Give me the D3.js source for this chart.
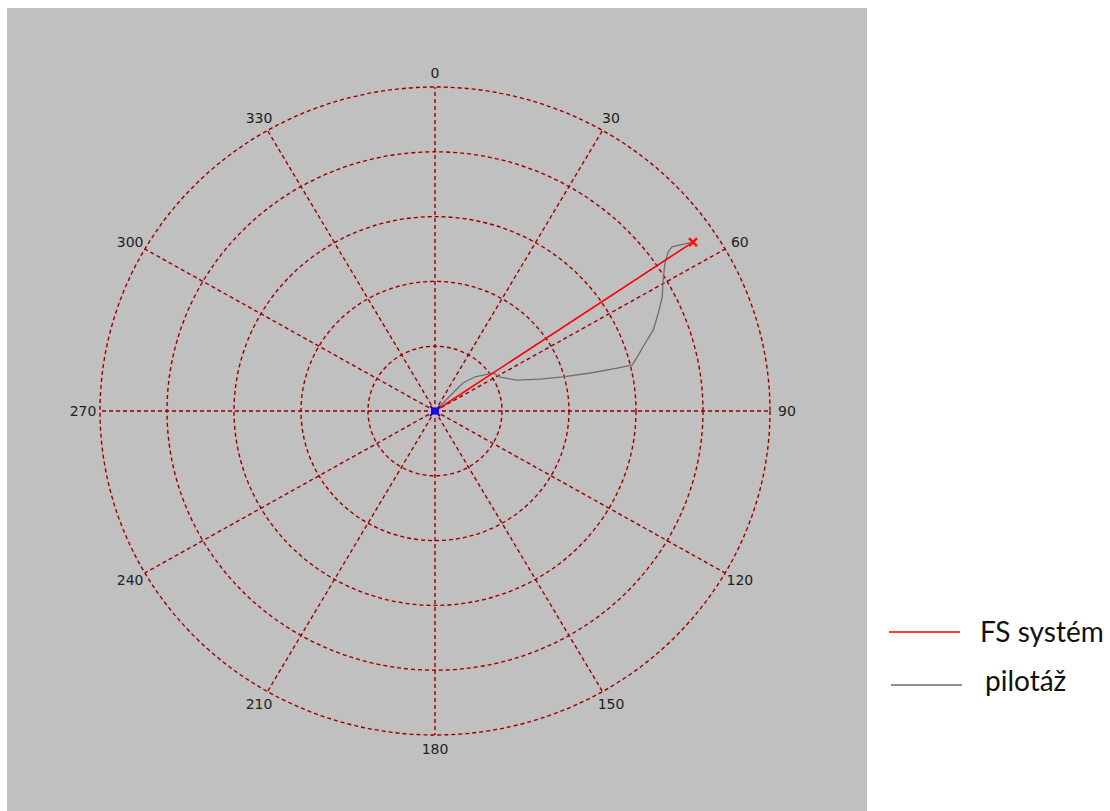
<!DOCTYPE html>
<html>
<head>
<meta charset="utf-8">
<script src="https://cdn.jsdelivr.net/npm/d3@7"></script>
<style>
  html, body { margin: 0; padding: 0; background: #ffffff; }
  svg { display: block; }
</style>
</head>
<body>
<svg id="chart" width="1110" height="811"></svg>
<script>
// Angular ticks (degrees, clockwise from north) and radial ring values
const angleTicks = [0, 30, 60, 90, 120, 150, 180, 210, 240, 270, 300, 330];
const ringTicks = [1, 2, 3, 4, 5];

// FS systém: straight bearing from origin to the final fix
const fsAngles = [55.9, 55.9];
const fsRadii = [0, 4.65];

// pilotáž: recorded track (bearing in degrees, radial distance)
const pilotAngles = [0, 44.0, 44.0, 44.0, 48.7, 55.9, 61.6, 68.7, 72.5, 74.6, 75.8, 76.3, 76.4,
  74.6, 72.3, 69.0, 65.6, 62.6, 59.3, 56.4, 54.8, 54.4, 55.0, 55.7];
const pilotRadii = [0, 0.28, 0.45, 0.60, 0.80, 1.05, 1.10, 1.31, 1.64, 1.98, 2.39, 2.80, 3.03,
  3.13, 3.26, 3.49, 3.66, 3.82, 3.96, 4.12, 4.26, 4.35, 4.47, 4.61];

const legendLabels = ["FS systém", "pilotáž"];
const legendColors = ["#ff0000", "#6e6e6e"];

const svg = d3.select("#chart");

// Plot panel
svg.append("rect")
  .attr("x", 7).attr("y", 8).attr("width", 860).attr("height", 803)
  .attr("fill", "#c0c0c0");

const cx = 435, cy = 411;
const rX = 335, rY = 324;           // outer ring half-axes in px
const r = d3.scaleLinear().domain([0, 5]).range([0, 1]);
const toRad = d => d * Math.PI / 180;
const px = (a, v) => cx + r(v) * rX * Math.sin(toRad(a));
const py = (a, v) => cy - r(v) * rY * Math.cos(toRad(a));

const grid = svg.append("g");
const gridColor = "#7a0808";

// soft halo under the dashed grid
grid.selectAll("ellipse.halo").data(ringTicks).join("ellipse")
  .attr("cx", cx).attr("cy", cy)
  .attr("rx", d => r(d) * rX).attr("ry", d => r(d) * rY)
  .attr("fill", "none").attr("stroke", "#e8a8a8").attr("stroke-opacity", 0.35).attr("stroke-width", 3);
grid.selectAll("line.halo").data(angleTicks).join("line")
  .attr("x1", cx).attr("y1", cy)
  .attr("x2", d => px(d, 5)).attr("y2", d => py(d, 5))
  .attr("stroke", "#e8a8a8").attr("stroke-opacity", 0.35).attr("stroke-width", 3);

grid.selectAll("ellipse.ring").data(ringTicks).join("ellipse")
  .attr("class", "ring")
  .attr("cx", cx).attr("cy", cy)
  .attr("rx", d => r(d) * rX).attr("ry", d => r(d) * rY)
  .attr("fill", "none").attr("stroke", gridColor).attr("stroke-width", 1.35)
  .attr("stroke-dasharray", "4,3");
grid.selectAll("line.spoke").data(angleTicks).join("line")
  .attr("class", "spoke")
  .attr("x1", cx).attr("y1", cy)
  .attr("x2", d => px(d, 5)).attr("y2", d => py(d, 5))
  .attr("stroke", gridColor).attr("stroke-width", 1.35)
  .attr("stroke-dasharray", "4,3");

// Angle labels just outside the outer ring
svg.append("g").selectAll("text").data(angleTicks).join("text")
  .attr("x", d => cx + 352 * Math.sin(toRad(d)))
  .attr("y", d => cy - 338 * Math.cos(toRad(d)))
  .attr("text-anchor", "middle").attr("dominant-baseline", "central")
  .attr("font-family", "DejaVu Sans, sans-serif").attr("font-size", 14)
  .attr("fill", "#222").text(d => d);

// Traces
const line = d3.line().x(d => d[0]).y(d => d[1]);
const pilotPts = pilotAngles.map((a, i) => [px(a, pilotRadii[i]), py(a, pilotRadii[i])]);
svg.append("path").attr("d", line(pilotPts))
  .attr("fill", "none").attr("stroke", legendColors[1]).attr("stroke-width", 1.3);

const fsPts = fsAngles.map((a, i) => [px(a, fsRadii[i]), py(a, fsRadii[i])]);
svg.append("path").attr("d", line(fsPts))
  .attr("fill", "none").attr("stroke", legendColors[0]).attr("stroke-width", 1.6);

// End marker (red cross)
const end = fsPts[fsPts.length - 1];
svg.append("path")
  .attr("d", `M${end[0]-4},${end[1]-4}L${end[0]+4},${end[1]+4}M${end[0]-4},${end[1]+4}L${end[0]+4},${end[1]-4}`)
  .attr("stroke", "#ff1010").attr("stroke-width", 2.6);

// Origin marker (blue)
const o = fsPts[0];
svg.append("rect").attr("x", o[0] - 4).attr("y", o[1] - 3).attr("width", 8).attr("height", 6)
  .attr("fill", "#1010e0");
svg.append("path")
  .attr("d", `M${o[0]-5},${o[1]-5}L${o[0]+5},${o[1]+5}M${o[0]-5},${o[1]+5}L${o[0]+5},${o[1]-5}`)
  .attr("stroke", "#1010e0").attr("stroke-width", 2);

// Legend
const legend = svg.append("g");
const legY = [632, 685];
const textY = [642, 691];
legendLabels.forEach((lab, i) => {
  legend.append("line")
    .attr("x1", 889 + i * 2).attr("x2", 960 + i * 2)
    .attr("y1", legY[i]).attr("y2", legY[i])
    .attr("stroke", legendColors[i]).attr("stroke-width", 1.6);
  legend.append("text")
    .attr("x", 980 + i * 5).attr("y", textY[i])
    .attr("font-family", "Lato, 'Open Sans', sans-serif").attr("font-size", 28)
    .attr("fill", "#111").text(lab);
});
</script>
</body>
</html>
